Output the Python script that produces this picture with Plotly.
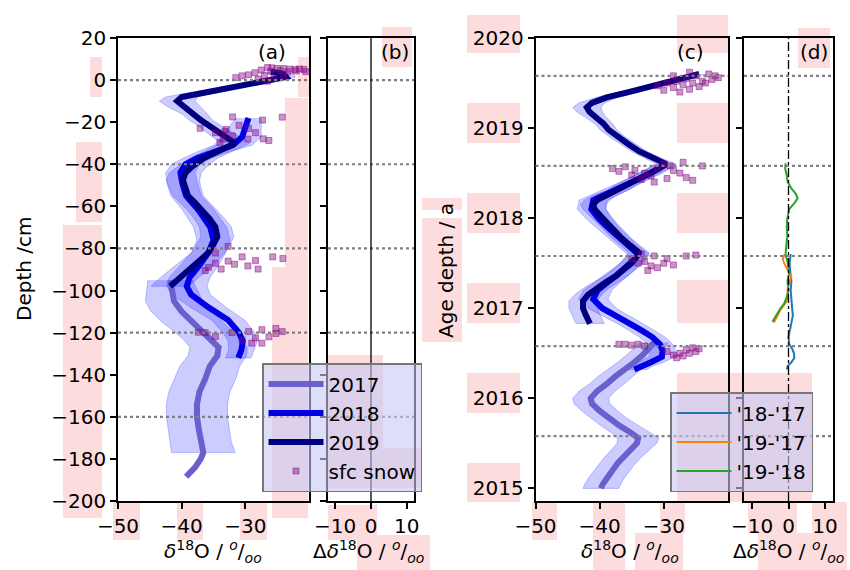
import plotly.graph_objects as go

W, H = 850, 570

# ---------------- data: panel (a) depth profiles ----------------
depth_2019 = [4, 3, 1.5, 0, -2, -4, -6, -8, -10, -13, -16, -19, -22, -25, -28, -30, -32, -34.6, -37, -41,
              -44, -47.5, -51, -55, -58, -61.7, -66, -69.8, -74.5, -78, -82, -85, -88.8, -92, -96.4, -98]
d18o_2019 = [-26.0, -24.0, -23.6, -26.2, -29.7, -33.1, -36.6, -40.0, -40.7, -39.5, -38.0, -37.0, -35.5, -34.0,
             -32.5, -31.6, -33.0, -34.7, -36.5, -38.3, -39.4, -39.8, -39.5, -39.0, -38.0, -36.8, -35.6, -34.7,
             -34.4, -35.0, -35.8, -36.9, -38.3, -39.6, -41.3, -41.8]
sd_2019 = [1.5, 1.5, 1.5, 1.6, 1.8, 2.0, 2.2, 2.5, 2.8, 2.5, 2.0, 1.8, 1.8, 2.0, 2.2, 2.3, 2.3, 2.2, 2.2, 2.3,
           2.5, 2.6, 2.5, 2.4, 2.3, 2.3, 2.4, 2.5, 2.6, 2.6, 2.6, 2.8, 3.0, 3.0, 3.0, 3.0]

depth_2018 = [-18, -22, -27, -31, -34, -37, -40, -44, -49, -55, -62, -70, -76, -82, -88, -94, -98, -102, -108,
              -114, -120, -124, -128, -132]
d18o_2018 = [-29.5, -30.0, -30.5, -32.0, -35.0, -37.5, -39.4, -40.2, -39.9, -39.3, -37.3, -35.5, -35.0, -35.8,
             -37.2, -38.8, -39.2, -38.5, -35.8, -32.7, -31.0, -30.4, -30.6, -31.1]
sd_2018 = [2.0, 2.5, 3.0, 3.0, 2.5, 2.2, 2.2, 2.3, 2.4, 2.4, 2.5, 2.6, 2.6, 2.7, 3.0, 3.2, 3.2, 3.0, 2.8, 2.6,
           2.5, 2.3, 2.0, 2.0]

depth_2017 = [-95, -100, -105, -110, -115, -119, -123, -127, -131, -136, -142, -148, -154, -160, -166, -172,
              -177, -180, -184, -188.5]
d18o_2017 = [-41.8, -41.5, -41.2, -40.0, -38.3, -36.8, -35.3, -34.2, -34.4, -35.6, -36.3, -37.2, -37.6, -37.6,
             -37.3, -37.0, -36.6, -37.0, -37.9, -39.3]
sd_2017 = [3.5, 4.0, 4.5, 4.8, 4.8, 4.6, 4.5, 4.5, 4.6, 4.7, 4.8, 4.8, 4.8, 4.8, 4.8, 4.8, 5.0, None, None, None]

snow_a_d18o = [-26.5, -25.8, -25.0, -24.0, -23.0, -22.2, -21.5, -20.8, -27.5, -26.0, -24.5, -23.3, -22.0, -28.5,
               -29.5, -30.5, -31.5, -27.0, -25.5, -28.0, -26.5, -24.0, -20.5,
               -32.0, -27.3, -24.2, -37.1, -34.7, -33.0, -31.0, -29.5, -28.4, -34.0, -33.5, -29.6, -27.2, -26.3,
               -32.0, -33.2,
               -34.7, -32.7, -30.5, -28.4, -25.7, -24.1, -35.8, -33.8, -31.7, -29.6, -28.0, -34.7, -32.7, -36.3,
               -36.3, -34.7, -32.1, -29.5, -27.4, -25.2, -24.2, -28.4, -30.5, -27.4, -29.0, -26.3, -37.4, -25.2]
snow_a_depth = [6.0, 5.8, 5.5, 5.5, 5.2, 5.0, 5.3, 5.1, 4.8, 4.2, 4.5, 4.0, 4.3, 3.5,
                2.5, 2.0, 1.2, 2.0, 1.0, 0.5, -0.5, 1.8, 4.0,
                -17.5, -19.0, -17.6, -22.9, -25.0, -23.5, -21.5, -23.0, -25.0, -29.6, -28.0, -28.0, -27.9, -28.7,
                -26.5, -24.5,
                -82.2, -79.0, -84.0, -85.7, -84.0, -84.8, -89.0, -89.8, -87.5, -88.3, -89.8, -87.0, -86.0, -90.5,
                -120.0, -121.8, -120.0, -119.5, -118.6, -118.0, -119.5, -122.5, -123.6, -125.0, -125.0, -122.0,
                -119.8, -120.4]

# ---------------- data: panel (c) age profiles ----------------
age_2019 = [2019.6, 2019.55, 2019.5, 2019.45, 2019.4, 2019.34, 2019.28, 2019.23, 2019.18, 2019.12, 2019.05,
            2018.98, 2018.9, 2018.82, 2018.74, 2018.66, 2018.6, 2018.55, 2018.5, 2018.44, 2018.38, 2018.31,
            2018.25, 2018.2, 2018.15, 2018.1, 2018.02, 2017.94, 2017.86, 2017.78, 2017.7, 2017.62, 2017.56,
            2017.5, 2017.43, 2017.36, 2017.29, 2017.22, 2017.15, 2017.08, 2017.0, 2016.93, 2016.86, 2016.83]
c_2019 = [-24.5, -27.5, -30.0, -32.5, -35.5, -38.9, -41.2, -42.0, -41.6, -40.6, -39.4, -38.6, -37.2, -35.5,
          -33.8, -31.5, -29.6, -30.8, -32.2, -34.0, -35.6, -37.2, -39.3, -40.4, -41.0, -40.8, -39.8, -38.8,
          -37.7, -36.6, -35.3, -33.9, -34.3, -35.2, -36.2, -37.4, -39.0, -40.6, -41.8, -42.6, -42.6, -42.2,
          -41.7, -41.5]
csd_2019 = [1.2, 1.2, 1.3, 1.4, 1.5, 1.7, 2.0, 2.2, 2.0, 1.6, 1.4, 1.3, 1.2, 1.2, 1.2, 1.3, 1.5, 1.6, 1.6,
            1.6, 1.6, 1.7, 1.8, 2.0, 2.0, 1.8, 1.6, 1.5, 1.5, 1.5, 1.5, 1.6, 1.6, 1.6, 1.7, 1.8, 1.9, 2.0,
            2.1, 2.2, 2.2, 2.2, 2.2, 2.2]

age_2018 = [2018.6, 2018.5, 2018.4, 2018.3, 2018.2, 2018.1, 2018.0, 2017.9, 2017.8, 2017.7, 2017.6, 2017.5,
            2017.4, 2017.3, 2017.2, 2017.1, 2017.0, 2016.92, 2016.84, 2016.76, 2016.68, 2016.6, 2016.53,
            2016.46, 2016.4, 2016.35, 2016.32]
c_2018 = [-29.8, -32.0, -35.0, -38.0, -41.0, -41.3, -40.2, -38.8, -37.3, -35.7, -34.0, -35.0, -36.8, -38.6,
          -40.3, -41.0, -39.6, -37.6, -35.5, -33.6, -31.8, -30.6, -30.2, -30.3, -32.0, -34.0, -34.6]
csd_2018 = [1.6, 1.8, 1.8, 1.9, 2.2, 2.2, 2.0, 1.8, 1.7, 1.6, 1.7, 1.8, 1.9, 2.0, 2.2, 2.3, 2.2, 2.1, 2.0,
            2.0, 2.0, 2.0, 2.0, 2.0, 2.0, 2.0, 2.0]

age_2017 = [2016.62, 2016.55, 2016.48, 2016.4, 2016.32, 2016.24, 2016.16, 2016.08, 2016.0, 2015.94, 2015.86,
            2015.78, 2015.7, 2015.62, 2015.56, 2015.5, 2015.44, 2015.36, 2015.28, 2015.2, 2015.12, 2015.05,
            2015.0]
c_2017 = [-31.5, -32.3, -33.3, -34.6, -36.2, -37.6, -38.9, -40.4, -41.4, -41.2, -40.0, -38.6, -37.0, -35.2,
          -34.0, -34.2, -35.0, -36.2, -37.2, -38.0, -38.9, -39.5, -39.8]
csd_2017 = [2.2, 2.4, 2.5, 2.6, 2.6, 2.7, 2.7, 2.8, 2.8, 2.8, 2.8, 2.8, 2.9, 3.0, 3.2, 3.1, 3.0, 2.9, 2.8,
            2.8, 2.8, 2.8, 2.8]

snow_c_d18o = [-30.0, -28.5, -27.0, -25.5, -24.0, -22.5, -21.5, -23.0, -25.0, -26.5, -28.0, -29.5, -31.0,
               -27.5, -26.0, -24.5, -23.5, -22.0, -26.0, -28.5,
               -38.0, -37.0, -36.0, -34.5, -33.0, -32.0, -31.0, -30.0, -29.0, -28.5, -27.5, -26.5, -25.5,
               -24.0, -29.5, -31.5, -33.5, -35.0, -27.0,
               -35.0, -34.0, -33.0, -32.0, -31.0, -30.0, -29.5, -31.5, -33.5, -28.5, -32.5, -26.5, -25.0,
               -37.0, -36.0, -35.0, -34.0, -33.0, -29.5, -28.5, -27.5, -26.5, -25.5, -24.5, -28.0, -27.0,
               -26.0, -25.0]
snow_c_age = [2019.42, 2019.45, 2019.48, 2019.5, 2019.52, 2019.54, 2019.56, 2019.6, 2019.58, 2019.55,
              2019.52, 2019.5, 2019.47, 2019.4, 2019.43, 2019.46, 2019.5, 2019.58, 2019.62, 2019.58,
              2018.55, 2018.52, 2018.57, 2018.53, 2018.5, 2018.47, 2018.55, 2018.6, 2018.58, 2018.53,
              2018.5, 2018.45, 2018.42, 2018.58, 2018.44, 2018.4, 2018.43, 2018.48, 2018.62,
              2017.55, 2017.5, 2017.52, 2017.47, 2017.45, 2017.5, 2017.55, 2017.58, 2017.6, 2017.48,
              2017.42, 2017.58, 2017.59,
              2016.6, 2016.6, 2016.59, 2016.6, 2016.58, 2016.52, 2016.48, 2016.5, 2016.54, 2016.56,
              2016.55, 2016.45, 2016.47, 2016.5, 2016.52]

# ---------------- data: panel (d) differences ----------------
age_19_18 = [2018.61, 2018.55, 2018.48, 2018.4, 2018.33, 2018.27, 2018.22, 2018.16, 2018.1, 2018.0, 2017.9,
             2017.8, 2017.7, 2017.6, 2017.5, 2017.4, 2017.3, 2017.2, 2017.12, 2017.05, 2017.0, 2016.95,
             2016.9, 2016.85]
diff_19_18 = [-0.8, -0.9, -0.5, -0.2, 0.8, 2.0, 2.5, 1.5, 0.2, -0.3, -0.5, -0.3, -0.6, -0.8, -0.2, 0.2,
              -0.3, 0.0, -0.5, -1.2, -2.2, -3.0, -3.8, -4.4]
age_19_17 = [2017.6, 2017.55, 2017.5, 2017.45, 2017.4, 2017.35, 2017.3, 2017.22, 2017.15, 2017.08, 2017.02,
             2016.97, 2016.92, 2016.87, 2016.84]
diff_19_17 = [-1.0, -1.6, -1.2, -0.5, 0.3, 0.8, 0.3, -0.2, -0.3, -0.5, -1.5, -2.4, -3.0, -3.6, -4.0]
age_18_17 = [2017.6, 2017.5, 2017.4, 2017.3, 2017.2, 2017.1, 2017.0, 2016.92, 2016.84, 2016.76, 2016.68,
             2016.6, 2016.55, 2016.5, 2016.45, 2016.4, 2016.36, 2016.32]
diff_18_17 = [0.6, 0.3, 0.5, 0.8, 0.6, 0.7, 1.0, 1.2, 0.8, 0.3, 0.0, 0.2, 1.0, 1.5, 1.6, 0.8, -0.2, -0.5]

depth_markers = [0, -40, -80, -120, -160]
age_markers = [2019.58, 2018.58, 2017.58, 2016.58, 2015.58]

depth_ticks = list(range(-200, 21, 20))
age_ticks = [2015, 2016, 2017, 2018, 2019, 2020]
d18o_ticks = [-50, -40, -30]
diff_ticks = [-10, 0, 10]

# ---------------- styles ----------------
C2017, C2018, C2019 = "#6a5fcd", "#0000e6", "#000080"
BAND = "rgba(0,0,255,0.2)"
BAND_EDGE = "rgba(0,0,255,0.22)"
SNOW_FILL = "rgba(128,0,128,0.42)"
SNOW_EDGE = "rgba(128,0,128,0.45)"
FONT = "DejaVu Sans"

fig = go.Figure()


def band(xv, yv, sd, xa, ya):
    pts = [(x, y, s) for x, y, s in zip(xv, yv, sd) if s is not None]
    lo = [p[0] - p[2] for p in pts]
    hi = [p[0] + p[2] for p in pts]
    ys = [p[1] for p in pts]
    fig.add_trace(go.Scatter(x=lo + hi[::-1], y=ys + ys[::-1], mode="lines", fill="toself",
                             fillcolor=BAND, line=dict(color=BAND_EDGE, width=1),
                             xaxis=xa, yaxis=ya, showlegend=False, hoverinfo="skip"))


# panel (a) bands
band(d18o_2017, depth_2017, sd_2017, "x", "y")
band(d18o_2018, depth_2018, sd_2018, "x", "y")
band(d18o_2019, depth_2019, sd_2019, "x", "y")
# panel (c) bands
band(c_2017, age_2017, csd_2017, "x3", "y3")
band(c_2018, age_2018, csd_2018, "x3", "y3")
band(c_2019, age_2019, csd_2019, "x3", "y3")

# panel (a) lines
fig.add_trace(go.Scatter(x=d18o_2017, y=depth_2017, mode="lines", name="2017",
                         line=dict(color=C2017, width=6), xaxis="x", yaxis="y", legend="legend"))
fig.add_trace(go.Scatter(x=d18o_2018, y=depth_2018, mode="lines", name="2018",
                         line=dict(color=C2018, width=6), xaxis="x", yaxis="y", legend="legend"))
fig.add_trace(go.Scatter(x=d18o_2019, y=depth_2019, mode="lines", name="2019",
                         line=dict(color=C2019, width=6), xaxis="x", yaxis="y", legend="legend"))
fig.add_trace(go.Scatter(x=snow_a_d18o, y=snow_a_depth, mode="markers", name="sfc snow",
                         marker=dict(symbol="square", size=6, color=SNOW_FILL,
                                     line=dict(color=SNOW_EDGE, width=1)),
                         xaxis="x", yaxis="y", legend="legend"))

# panel (c) lines
fig.add_trace(go.Scatter(x=c_2017, y=age_2017, mode="lines", line=dict(color=C2017, width=6),
                         xaxis="x3", yaxis="y3", showlegend=False))
fig.add_trace(go.Scatter(x=c_2018, y=age_2018, mode="lines", line=dict(color=C2018, width=6),
                         xaxis="x3", yaxis="y3", showlegend=False))
fig.add_trace(go.Scatter(x=c_2019, y=age_2019, mode="lines", line=dict(color=C2019, width=6),
                         xaxis="x3", yaxis="y3", showlegend=False))
fig.add_trace(go.Scatter(x=snow_c_d18o, y=snow_c_age, mode="markers", showlegend=False,
                         marker=dict(symbol="square", size=6, color=SNOW_FILL,
                                     line=dict(color=SNOW_EDGE, width=1)),
                         xaxis="x3", yaxis="y3"))

# panel (d) differences
fig.add_trace(go.Scatter(x=diff_18_17, y=age_18_17, mode="lines", name="'18-'17",
                         line=dict(color="#1f77b4", width=2), xaxis="x4", yaxis="y4", legend="legend2"))
fig.add_trace(go.Scatter(x=diff_19_17, y=age_19_17, mode="lines", name="'19-'17",
                         line=dict(color="#ff7f0e", width=2), xaxis="x4", yaxis="y4", legend="legend2"))
fig.add_trace(go.Scatter(x=diff_19_18, y=age_19_18, mode="lines", name="'19-'18",
                         line=dict(color="#2ca02c", width=2), xaxis="x4", yaxis="y4", legend="legend2"))

# ---------------- layout ----------------
def px_x(p):
    return p / W


def px_y(p):
    return 1 - p / H


ydom = [px_y(501), px_y(38)]
axis_common = dict(showline=True, linecolor="black", linewidth=1.5, mirror=True, ticks="outside",
                   ticklen=6, tickwidth=1.5, tickcolor="black", showgrid=False, zeroline=False,
                   automargin=False, tickfont=dict(family=FONT, size=20, color="black"))

fig.update_layout(
    width=W, height=H, margin=dict(l=0, r=0, t=0, b=0, pad=0, autoexpand=False),
    paper_bgcolor="white", plot_bgcolor="rgba(0,0,0,0)",
    font=dict(family=FONT, size=20, color="black"),
    xaxis=dict(domain=[px_x(118), px_x(309)], range=[-50, -20], tickvals=d18o_ticks, anchor="y", **axis_common),
    yaxis=dict(domain=ydom, range=[-200, 20], tickvals=depth_ticks, anchor="x", **axis_common),
    xaxis2=dict(domain=[px_x(328), px_x(414)], range=[-12, 12], tickvals=diff_ticks, anchor="y2", **axis_common),
    yaxis2=dict(domain=ydom, range=[-200, 20], tickvals=depth_ticks, anchor="x2", showticklabels=False,
                **axis_common),
    xaxis3=dict(domain=[px_x(535.5), px_x(728)], range=[-50, -20], tickvals=d18o_ticks, anchor="y3",
                **axis_common),
    yaxis3=dict(domain=ydom, range=[2014.86, 2020], tickvals=age_ticks, anchor="x3", **axis_common),
    xaxis4=dict(domain=[px_x(744), px_x(833)], range=[-12.2, 12.2], tickvals=diff_ticks, anchor="y4",
                **axis_common),
    yaxis4=dict(domain=ydom, range=[2014.86, 2020], tickvals=age_ticks, anchor="x4", showticklabels=False,
                **axis_common),
    legend=dict(x=px_x(262), y=px_y(363), xanchor="left", yanchor="top",
                bgcolor="rgba(200,200,245,0.6)", bordercolor="#777777", borderwidth=1.5,
                font=dict(family=FONT, size=20), tracegroupgap=0, itemwidth=55),
    legend2=dict(x=px_x(670), y=px_y(392), xanchor="left", yanchor="top",
                 bgcolor="rgba(200,200,245,0.6)", bordercolor="#777777", borderwidth=1.5,
                 font=dict(family=FONT, size=20), tracegroupgap=0, itemwidth=55),
)

shapes = []
# pale pink rectangles seen behind labels in the reference
pink_boxes = [
    (90, 57, 102, 97), (76, 142, 102, 222), (63, 225, 102, 518),
    (298, 57, 310, 97), (285, 98, 308, 267), (272, 267, 308, 518),
    (382, 27, 412, 67), (422, 198, 430, 210), (422, 218, 430, 342),
    (113, 502, 140, 540), (177, 502, 203, 540), (240, 502, 267, 540),
    (328, 355, 383, 448), (328, 448, 422, 488), (328, 505, 377, 540), (357, 535, 430, 570),
    (467, 15, 520, 53), (467, 103, 520, 143), (467, 193, 520, 233), (467, 283, 520, 323),
    (467, 373, 520, 413), (467, 463, 520, 502),
    (423, 198, 462, 210), (423, 218, 462, 342),
    (677, 15, 728, 53), (677, 103, 728, 143), (677, 193, 728, 233), (677, 280, 728, 323),
    (677, 373, 812, 502), (798, 28, 830, 68),
    (532, 502, 557, 540), (593, 502, 625, 570), (660, 502, 685, 533), (635, 533, 683, 570),
    (748, 502, 797, 533), (812, 502, 847, 570), (758, 533, 847, 570),
]
for (x0, y0, x1, y1) in pink_boxes:
    shapes.append(dict(type="rect", xref="paper", yref="paper", x0=px_x(x0), x1=px_x(x1),
                       y0=px_y(y1), y1=px_y(y0), fillcolor="#fcdcdc", line=dict(width=0), layer="below"))

dot = dict(color="#808080", width=2.2, dash="dot")
for xr, yr in (("x", "y"), ("x2", "y2")):
    for d in depth_markers:
        shapes.append(dict(type="line", xref=f"{xr} domain", yref=yr, x0=0, x1=1, y0=d, y1=d, line=dot))
for xr, yr in (("x3", "y3"), ("x4", "y4")):
    for a in age_markers:
        shapes.append(dict(type="line", xref=f"{xr} domain", yref=yr, x0=0, x1=1, y0=a, y1=a, line=dot))
# zero lines
shapes.append(dict(type="line", xref="x2", yref="y2 domain", x0=0, x1=0, y0=0, y1=1,
                   line=dict(color="black", width=1.3)))
shapes.append(dict(type="line", xref="x4", yref="y4 domain", x0=0, x1=0, y0=0, y1=1,
                   line=dict(color="black", width=1.3, dash="dashdot")))
fig.update_layout(shapes=shapes)

ann = []
for txt, x, y in (("(a)", 272, 52), ("(b)", 395, 52), ("(c)", 690, 52), ("(d)", 814, 52)):
    ann.append(dict(text=txt, x=px_x(x), y=px_y(y), xref="paper", yref="paper", showarrow=False,
                    font=dict(family=FONT, size=20), xanchor="center", yanchor="middle"))
permil = "<sup><i>o</i></sup>/<sub><i>oo</i></sub>"
for txt, x, y in ((f"<i>δ</i><sup>18</sup>O / {permil}", 213, 551),
                  (f"Δ<i>δ</i><sup>18</sup>O / {permil}", 368, 551),
                  (f"<i>δ</i><sup>18</sup>O / {permil}", 630, 551),
                  (f"Δ<i>δ</i><sup>18</sup>O / {permil}", 788, 551)):
    ann.append(dict(text=txt, x=px_x(x), y=px_y(y), xref="paper", yref="paper", showarrow=False,
                    font=dict(family=FONT, size=20), xanchor="center", yanchor="middle"))
ann.append(dict(text="Depth /cm", x=px_x(24), y=px_y(269), xref="paper", yref="paper", showarrow=False,
                textangle=-90, font=dict(family=FONT, size=20), xanchor="center", yanchor="middle"))
ann.append(dict(text="Age depth / a", x=px_x(446), y=px_y(270), xref="paper", yref="paper",
                showarrow=False, textangle=-90, font=dict(family=FONT, size=20),
                xanchor="center", yanchor="middle"))
fig.update_layout(annotations=ann)

fig.write_html("out.html", config={"displayModeBar": False},
               post_script="document.body.style.margin='0';document.body.style.overflow='hidden';")
